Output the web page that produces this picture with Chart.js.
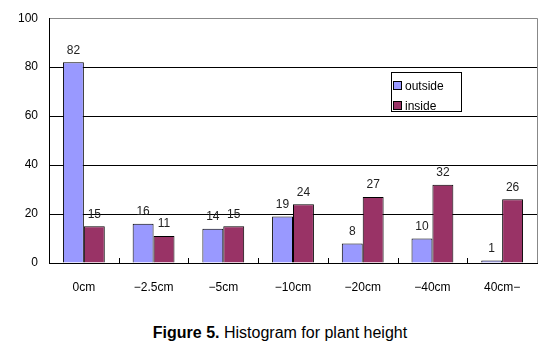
<!DOCTYPE html>
<html>
<head>
<meta charset="utf-8">
<script src="https://cdn.jsdelivr.net/npm/chart.js@4/dist/chart.umd.min.js"></script>
<style>
  body { margin: 0; background: #fff; font-family: "Liberation Sans", Arial, sans-serif; }
  #wrap { position: relative; width: 560px; height: 352px; }
  #chartBox { position: absolute; left: 0; top: 0; width: 560px; height: 300px; }
  #legend { position: absolute; left: 391px; top: 72px; width: 69px; height: 38px;
    border: 1px solid #000; background: #fff; font-size: 12px; }
  .item { position: absolute; left: 1px; height: 14px; line-height: 14px; white-space: nowrap; }
  .sw { display: inline-block; width: 7px; height: 7px; border: 1px solid #000; vertical-align: middle; margin-right: 3px; margin-top: -2px; }
  #caption { position: absolute; left: 0; width: 560px; top: 324px; text-align: center; font-size: 16px; color: #000; }
</style>
</head>
<body>
<div id="wrap">
  <div id="chartBox"><canvas id="plantChart"></canvas></div>
  <div id="legend"></div>
  <div id="caption"><b>Figure 5.</b> Histogram for plant height</div>
</div>
<script>
// Data
const categories = ['0cm', '−2.5cm', '−5cm', '−10cm', '−20cm', '−40cm', '40cm−'];
const outsideValues = [82, 16, 14, 19, 8, 10, 1];
const insideValues = [15, 11, 15, 24, 27, 32, 26];
const seriesNames = ['outside', 'inside'];
const seriesColors = ['#9999FF', '#993366'];

// Value labels above bars, inward x ticks and the grey right border
const extrasPlugin = {
    id: 'extras',
    afterDraw(chart) {
        const ctx = chart.ctx;
        const area = chart.chartArea;
        const x = chart.scales.x;

        ctx.save();
        ctx.strokeStyle = '#888';
        ctx.lineWidth = 1;
        ctx.beginPath();
        ctx.moveTo(area.right + 0.5, area.top);
        ctx.lineTo(area.right + 0.5, area.bottom);
        ctx.stroke();

        ctx.strokeStyle = '#000';
        ctx.beginPath();
        for (let i = 1; i < categories.length; i++) {
            const px = Math.round((x.getPixelForValue(i - 1) + x.getPixelForValue(i)) / 2) + 0.5;
            ctx.moveTo(px, area.bottom);
            ctx.lineTo(px, area.bottom - 5);
        }
        ctx.stroke();

        ctx.fillStyle = '#222';
        ctx.font = '12px "Liberation Sans", Arial, sans-serif';
        ctx.textAlign = 'center';
        ctx.textBaseline = 'bottom';
        chart.data.datasets.forEach((ds, di) => {
            chart.getDatasetMeta(di).data.forEach((bar, i) => {
                ctx.fillText(String(ds.data[i]), bar.x, bar.y - 6);
            });
        });
        ctx.restore();
    }
};

const chart = new Chart(document.getElementById('plantChart'), {
    type: 'bar',
    data: {
        labels: categories,
        datasets: [{
            label: seriesNames[0],
            data: outsideValues,
            backgroundColor: seriesColors[0],
            borderColor: '#000',
            borderWidth: 1
        }, {
            label: seriesNames[1],
            data: insideValues,
            backgroundColor: seriesColors[1],
            borderColor: '#000',
            borderWidth: 1
        }]
    },
    options: {
        responsive: true,
        maintainAspectRatio: false,
        animation: false,
        layout: { padding: { top: 13, right: 23, left: 0, bottom: 0 } },
        plugins: {
            legend: { display: false },
            tooltip: { enabled: false }
        },
        datasets: {
            bar: { categoryPercentage: 0.6, barPercentage: 1.0 }
        },
        scales: {
            x: {
                offset: true,
                grid: { display: false },
                border: { color: '#000', width: 1 },
                ticks: {
                    color: '#000',
                    padding: 9,
                    font: { family: '"Liberation Sans", Arial, sans-serif', size: 12 }
                },
                afterFit: s => { s.height = 37; }
            },
            y: {
                min: 0,
                max: 100,
                ticks: {
                    stepSize: 20,
                    color: '#000',
                    padding: 11,
                    font: { family: '"Liberation Sans", Arial, sans-serif', size: 12 }
                },
                grid: {
                    drawTicks: false,
                    color: c => (c.tick && c.tick.value === 100 ? '#888' : (c.tick && c.tick.value === 0 ? 'rgba(0,0,0,0)' : '#000'))
                },
                border: { color: '#000', width: 1 },
                afterFit: s => { s.width = 49; }
            }
        }
    },
    plugins: [extrasPlugin]
});

// Legend built from the dataset names
const legend = document.getElementById('legend');
seriesNames.forEach((name, i) => {
    const row = document.createElement('div');
    row.className = 'item';
    row.style.top = (i === 0 ? 6 : 26) + 'px';
    row.innerHTML = '<span class="sw" style="background:' + seriesColors[i] + '"></span>' + name;
    legend.appendChild(row);
});
</script>
</body>
</html>
